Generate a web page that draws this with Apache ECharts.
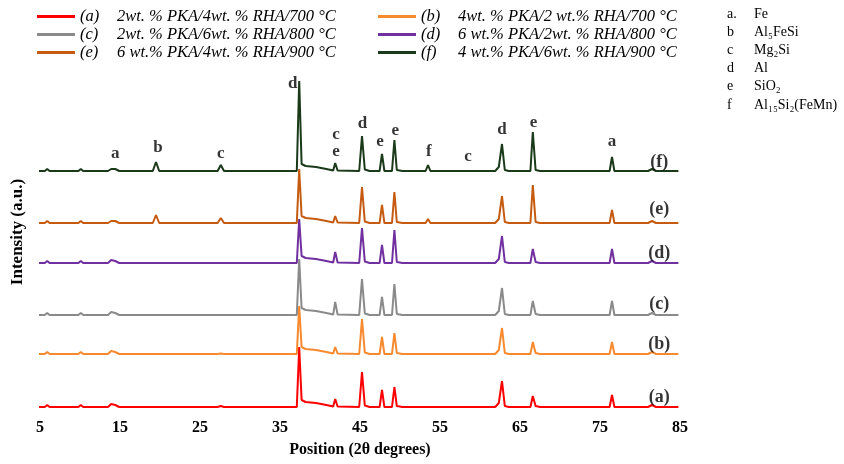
<!DOCTYPE html>
<html>
<head>
<meta charset="utf-8">
<script src="https://cdn.jsdelivr.net/npm/echarts@6/dist/echarts.min.js"></script>
<style>html,body{margin:0;padding:0;background:#fff;}#c{width:844px;height:464px;}</style>
</head>
<body>
<div id="c"></div>
<script>
// 2θ positions of the profile nodes
const twoTheta = [4.8,5.6,5.9,6.2,9.8,10.1,10.4,13.5,13.9,14.4,14.9,19.1,19.5,19.9,27.2,27.6,28.0,
  37.1,37.4,37.7,38.2,39.5,40.8,41.65,41.9,42.2,44.9,45.25,45.6,46.2,47.45,47.75,48.05,49.0,49.3,49.6,50.3,
  53.2,53.5,53.8,61.9,62.35,62.55,62.75,63.1,63.6,66.3,66.6,66.95,67.5,76.2,76.5,76.8,81.0,81.5,82.0,84.8];

// intensities above each trace's own baseline (a.u.)
const intA = [0,0,2,0,0,2,0,0,3,2,0,0,0,0,0,1,0, 0,60,7,5,4,2,0.5,8,0.5,0,35,1.5,0,0,17,0,0,20,1,0, 0,0,0,0,4,5,26,1,0,0,11,1,0,0,12,0,0,2,0,0];
const intB = [0,0,2,0,0,2,0,0,3,2,0,0,0,0,0,0.5,0, 0,48,7,5,4,2,0.5,7,0.5,0,35,1.5,0,0,17,0,0,21,1,0, 0,0,0,0,4,5,26,1,0,0,12,1,0,0,12,0,0,2,0,0];
const intC = [0,0,2,0,0,2,0,0,3,2,0,0,0,0,0,0,0, 0,56,7,5,4,2,0.5,13,0.5,0,36,1.5,0,0,18,0,0,31,1,0, 0,0,0,0,4,5,27,1,0,0,14,1,0,0,14,0,0,2,0,0];
const intD = [0,0,2,0,0,2,0,0,3,2,0,0,0,0,0,0,0, 0,44,7,5,4,2,0.5,11,0.5,0,35,1.5,0,0,18,0,0,33,1,0, 0,0,0,0,4,5,27,1,0,0,14,1,0,0,14,0,0,2,0,0];
const intE = [0,0,2,0,0,2,0,0,2,2,0,0,8,0,0,5,0, 0,54,7,5,4,2,0.5,7,0.5,0,36,1.5,0,0,18,0,0,31,1,0, 0,4,0,0,4,5,27,1,0,0,38,1,0,0,13,0,0,2,0,0];
const intF = [0,0,2,0,0,2,0,0,2,2,0,0,9,0,0,6,0, 0,90,7,5,4,2,0.5,8,0.5,0,35,1.5,0,0,17,0,0,31,1,0, 0,6,0,0,4,5,27,1,0,0,39,1,0,0,14,0,0,2,0,0];

// vertical offsets of the stacked patterns (a.u.)
const offsets = [3, 56, 95, 147, 187, 239];

const traceTags = ['(a)','(b)','(c)','(d)','(e)','(f)'];
const traceNames = [
  '2wt. % PKA/4wt. % RHA/700 °C',
  '4wt. % PKA/2 wt.% RHA/700 °C',
  '2wt. % PKA/6wt. % RHA/800 °C',
  '6 wt.% PKA/2wt. % RHA/800 °C',
  '6 wt.% PKA/4wt. % RHA/900 °C',
  '4 wt.% PKA/6wt. % RHA/900 °C'
];
const colors = ['#ff0000','#f7892f','#8a8a8a','#7030a0','#c55a11','#1a3a1a'];

// trace tag labels at right
const tagX = [82.4,82.4,82.4,82.4,82.4,82.4];
const tagY = [13, 66, 106, 157, 201, 248];

// phase letters above peaks of (f)
const peakLetters = ['a','b','c','d','c','e','d','e','e','f','c','d','e','a'];
const peakLetterX = [14.4,19.75,27.6,36.6,42.0,42.0,45.3,47.5,49.4,53.6,58.5,62.75,66.7,76.5];
const peakLetterY = [256,262,256,326,275,258,286,268,279,258,253,280,287,268];

// phase key
const keyLetters = ['a.','b','c','d','e','f'];
const keyPhases = ['Fe','Al₅FeSi','Mg₂Si','Al','SiO₂','Al₁₅Si₂(FeMn)'];

const xTicks = [5,15,25,35,45,55,65,75,85];

const serif = "'Liberation Serif','Times New Roman',serif";
const allInt = [intA,intB,intC,intD,intE,intF];

const series = allInt.map((arr, i) => ({
  name: traceTags[i] + ' ' + traceNames[i],
  type: 'line',
  showSymbol: false,
  symbol: 'none',
  silent: true,
  animation: false,
  lineStyle: { color: colors[i], width: 2 },
  itemStyle: { color: colors[i] },
  data: twoTheta.map((x, k) => [x, arr[k] + offsets[i]])
}));

series.push({
  type: 'scatter', silent: true, animation: false, symbolSize: 0, z: 10,
  data: peakLetters.map((t, k) => ({ name: t, value: [peakLetterX[k], peakLetterY[k]] })),
  label: { show: true, position: 'inside', formatter: p => p.name,
    fontFamily: serif, fontWeight: 'bold', fontSize: 17, color: '#000' }
});
series.push({
  type: 'scatter', silent: true, animation: false, symbolSize: 0, z: 10,
  data: traceTags.map((t, k) => ({ name: t, value: [tagX[k], tagY[k]] })),
  label: { show: true, position: 'inside', formatter: p => p.name,
    fontFamily: serif, fontWeight: 'bold', fontSize: 18, color: '#000' }
});

const graphics = [{
  type: 'text', x: 18, y: 232, rotation: Math.PI / 2,
  style: { text: 'Intensity (a.u.)', fontFamily: serif, fontWeight: 'bold', fontSize: 17,
    fill: '#000', align: 'center', verticalAlign: 'middle' }
}];
keyLetters.forEach((l, i) => {
  graphics.push({ type: 'text', x: 727, y: 14 + i * 18.2,
    style: { text: l, fontFamily: serif, fontSize: 14, fill: '#000', verticalAlign: 'middle' } });
  graphics.push({ type: 'text', x: 754, y: 14 + i * 18.2,
    style: { text: keyPhases[i], fontFamily: serif, fontSize: 14, fill: '#000', verticalAlign: 'middle' } });
});

const chart = echarts.init(document.getElementById('c'), null, { renderer: 'canvas' });
chart.setOption({
  animation: false,
  backgroundColor: '#fff',
  grid: { left: 40, right: 164, top: 80, bottom: 54 },
  legend: {
    left: 32, top: 3, width: 700, itemGap: 1,
    icon: 'rect', itemWidth: 38, itemHeight: 3,
    selectedMode: false,
    data: series.slice(0, 6).map(s => s.name),
    formatter: name => {
      const i = series.findIndex(s => s.name === name);
      return '{l|' + traceTags[i] + '}{t|' + traceNames[i] + '}';
    },
    textStyle: {
      rich: {
        l: { fontFamily: serif, fontStyle: 'italic', fontSize: 16.5, width: 37, lineHeight: 17.5, color: '#000' },
        t: { fontFamily: serif, fontStyle: 'italic', fontSize: 16.5, width: 260, lineHeight: 17.5, color: '#000' }
      }
    }
  },
  xAxis: {
    type: 'value', min: 5, max: 85, interval: 10,
    axisLine: { show: false }, axisTick: { show: false }, splitLine: { show: false },
    axisLabel: { fontFamily: serif, fontWeight: 'bold', fontSize: 16, color: '#000', margin: 10,
      formatter: v => xTicks.includes(v) ? String(v) : '' },
    name: 'Position (2θ degrees)', nameLocation: 'middle', nameGap: 32,
    nameTextStyle: { fontFamily: serif, fontWeight: 'bold', fontSize: 16, color: '#000' }
  },
  yAxis: {
    type: 'value', min: 0, max: 330,
    axisLine: { show: false }, axisTick: { show: false }, splitLine: { show: false },
    axisLabel: { show: false }
  },
  graphic: graphics,
  series: series
});
</script>
</body>
</html>
